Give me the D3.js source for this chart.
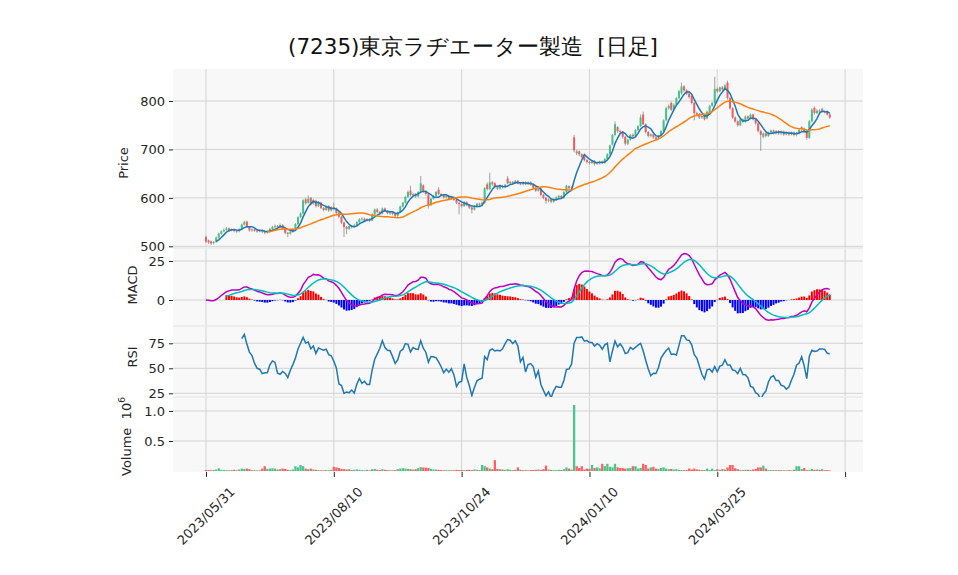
<!DOCTYPE html>
<html><head><meta charset="utf-8">
<script src="https://cdn.jsdelivr.net/npm/d3@7"></script>
<style>body{margin:0;background:#fff}svg text{font-family:"DejaVu Sans",sans-serif}</style>
</head><body><svg id="c" width="958" height="575"></svg>
<script>
// ---- data ----
const title = "(7235)東京ラヂエーター製造\u00a0\u00a0[日足]";
const opens = [
519,512,510,507,509,518,526,531,534,537, 533,535,532,531,535,545,551,540,533,535,
532,531,533,531,528,530,536,540,542,540, 544,537,528,526,530,535,546,560,568,597,
590,600,588,594,583,590,579,575,583,574, 581,578,569,561,549,540,536,542,540,543,
550,556,557,553,556,553,566,576,571,568, 578,573,568,570,567,563,570,582,590,602,
615,606,608,603,612,626,614,607,585,598, 604,617,608,606,601,604,598,602,596,590,
587,583,591,585,580,576,582,588,586,590, 628,618,632,630,622,619,625,622,640,630,
633,631,635,630,628,632,628,632,627,621, 615,619,606,600,594,597,592,597,601,604,
600,612,624,620,725,692,696,690,685,678, 674,672,676,670,672,675,673,680,690,710,
730,746,738,736,726,712,720,730,727,740, 748,772,752,736,728,731,725,722,728,738,
760,785,796,782,792,806,816,830,822,815, 810,796,775,772,766,770,764,778,790,796,
825,820,828,824,838,806,785,766,758,750, 762,757,768,764,772,762,754,738,726,733,
728,735,739,734,738,733,737,731,735,731, 735,730,734,746,743,738,724,758,786,775,
780,784,777,779,772];
const closes = [
510,508,506,509,518,526,531,534,537,533, 535,532,531,535,545,550,540,533,535,532,
531,533,531,528,530,536,540,542,540,544, 537,528,526,530,535,546,560,568,595,589,
598,588,595,583,590,579,575,583,574,581, 578,569,561,549,540,536,542,540,543,550,
556,557,553,556,553,566,576,571,568,578, 573,568,570,567,563,570,582,590,602,612,
606,608,603,612,630,614,608,584,598,604, 612,608,606,601,604,598,602,596,590,587,
583,591,585,580,576,582,588,586,590,620, 618,632,628,622,619,625,622,627,630,633,
631,635,630,628,632,628,632,627,621,615, 619,606,600,594,597,592,597,601,604,600,
612,625,620,622,698,696,690,685,678,674, 672,676,670,672,675,673,680,690,708,730,
752,738,736,726,712,720,730,727,740,748, 766,752,736,728,731,725,722,728,738,760,
785,790,782,792,806,820,830,822,815,808, 796,775,772,766,769,762,778,790,796,825,
820,828,824,832,806,785,766,758,750,762, 757,768,764,772,762,754,738,730,733,728,
735,739,734,738,733,737,731,735,731,735, 730,734,740,743,738,724,758,782,775,780,
778,782,777,772,766];
const highs = [
522,514,512,511,520,528,533,537,540,539, 537,537,534,537,547,553,553,542,537,537,
534,535,535,533,532,538,542,545,544,547, 546,538,530,532,537,548,562,570,597,600,
605,602,597,596,592,592,581,585,585,583, 590,580,571,563,551,542,544,544,546,552,
558,560,559,558,558,568,578,579,573,580, 580,575,572,572,569,572,584,592,604,615,
625,611,610,614,645,628,616,609,600,606, 614,622,610,608,606,606,604,603,598,592,
589,593,593,587,582,584,590,590,592,622, 632,652,635,633,625,627,627,629,645,635,
635,637,637,632,634,634,634,634,629,623, 621,621,608,602,599,599,599,603,606,606,
614,627,626,624,730,699,698,692,687,680, 676,678,678,674,677,677,682,692,710,732,
758,748,741,738,728,722,732,733,742,750, 772,778,754,738,733,733,727,730,740,762,
788,793,799,795,808,823,838,833,825,818, 812,798,778,775,772,772,780,792,798,850,
828,830,831,835,842,808,787,768,760,764, 764,770,770,774,774,764,756,740,735,735,
737,741,741,740,740,739,739,737,737,737, 737,736,742,748,745,740,761,785,789,783,
783,786,780,781,775];
const lows = [
507,505,503,504,507,516,524,529,532,530, 531,529,528,529,533,543,538,530,530,530,
528,529,527,525,526,528,534,538,537,538, 535,525,519,524,528,533,544,558,566,586,
588,585,586,580,581,577,572,573,571,572, 576,566,558,546,519,525,534,537,538,541,
548,553,550,551,550,552,564,568,566,566, 571,566,565,564,560,561,568,580,588,600,
603,603,600,601,610,611,605,578,583,596, 602,605,603,599,599,596,596,594,587,566,
580,581,583,577,568,574,580,583,584,588, 615,616,625,619,616,617,619,620,628,628,
629,629,628,626,626,626,626,625,619,612, 613,603,597,588,591,589,590,594,599,598,
598,610,618,618,694,688,686,682,675,671, 669,670,667,668,669,670,671,678,688,708,
728,734,732,722,708,709,718,724,725,738, 746,750,733,725,725,722,719,720,726,736,
758,782,779,780,790,804,813,818,812,805, 793,760,768,763,763,760,762,776,788,794,
817,818,821,822,803,782,763,755,747,748, 755,755,762,762,760,751,735,697,723,725,
726,733,731,731,730,730,728,729,728,729, 727,727,731,738,735,720,722,756,772,773,
775,775,774,770,763];
const volumes = [ // thousands of shares
17,17,12,17,25,45,20,17,15,12, 15,20,12,25,40,35,40,30,15,12,
10,12,40,80,35,40,45,40,25,30, 40,35,20,15,25,80,60,100,80,40,
30,40,25,20,15,12,12,15,12,20, 70,60,50,35,30,25,30,15,20,25,
20,15,12,20,12,30,35,20,15,30, 20,15,12,12,15,30,40,45,40,35,
30,25,30,45,65,60,55,50,35,25, 25,20,15,12,15,12,15,12,20,15,
17,15,17,20,15,25,20,15,100,80, 60,40,30,180,35,30,25,20,30,20,
15,20,60,20,15,15,12,15,17,20, 25,20,30,90,25,17,15,15,20,17,
30,60,40,25,1100,80,50,80,25,40, 35,100,50,60,45,120,80,120,70,60,
120,60,50,50,40,45,50,80,80,40, 50,120,100,40,60,70,40,35,50,60,
40,30,35,25,30,20,17,15,15,40, 25,40,25,20,17,15,40,17,40,15,
30,20,30,25,60,100,100,45,30,15, 15,20,20,17,25,35,60,60,90,40,
15,15,15,15,15,15,12,12,15,12, 20,80,80,30,50,15,15,35,20,25,
20,30,15,15,10];
const tickIdx = [0, 50, 100, 150, 200, 250];
const tickLabels = ["2023/05/31", "2023/08/10", "2023/10/24", "2024/01/10", "2024/03/25", ""];
const priceTicks = [500, 600, 700, 800];
const macdTicks = [0, 25];
const rsiTicks = [25, 50, 75];
const volTicks = [0.5, 1.0];

// ---- indicators from the closes ----
const n = closes.length;
function sma(a, p){ return a.map((v,i)=> i<p-1 ? null : d3.mean(a.slice(i-p+1,i+1))); }
function ema(a, p){ const k=2/(p+1); const out=[]; a.forEach((v,i)=>out.push(i===0?v:out[i-1]+k*(v-out[i-1]))); return out; }
const ma5 = sma(closes,5), ma25 = sma(closes,25);
const e12 = ema(closes,12), e26 = ema(closes,26);
const macd = e12.map((v,i)=>v-e26[i]);
const sig = ema(macd,9);
const hist = macd.map((v,i)=>v-sig[i]);
const rsi = closes.map((c,i)=>{
  if(i<14) return null;
  let g=0,l=0;
  for(let j=i-13;j<=i;j++){ const d=closes[j]-closes[j-1]; if(d>0) g+=d; else l-=d; }
  return l===0?100:100-100/(1+g/l);
});

// ---- layout ----
const svg = d3.select("#c");
const L=173, R=863;
const P = {price:[69,248], macd:[248,326], rsi:[326,397], vol:[397,472]};
const x = d3.scaleLinear().domain([-12.9,257.0]).range([L,R]);
const yP = d3.scaleLinear().domain([500,800]).range([246.3,101]);
const yM = d3.scaleLinear().domain([0,25]).range([300,261]);
const yR = d3.scaleLinear().domain([25,75]).range([393.3,343.3]);
const yV = d3.scaleLinear().domain([0,1]).range([471,411]);
const UP="#40c383", DN="#f65a5a", GRID="#d3d3d3", BG="#f8f8f8", TXT="#262626";

Object.entries(P).forEach(([k,[t,b]])=>{
  svg.append("rect").attr("x",L).attr("y",t).attr("width",R-L).attr("height",b-t).attr("fill",BG);
  svg.append("clipPath").attr("id","cp-"+k).append("rect").attr("x",L).attr("y",t).attr("width",R-L).attr("height",b-t);
  svg.selectAll(null).data(tickIdx).join("line")
    .attr("x1",d=>x(d)).attr("x2",d=>x(d)).attr("y1",t).attr("y2",b)
    .attr("stroke",GRID).attr("stroke-width",1);
});
[248,326,397].forEach(yy=>svg.append("line").attr("x1",L).attr("x2",R).attr("y1",yy).attr("y2",yy).attr("stroke","#eaeaea").attr("stroke-width",1.5));

function yAxis(scale, ticks, fmt, panel){
  const g = svg.append("g").attr("transform",`translate(${L},0)`)
    .call(d3.axisLeft(scale).tickValues(ticks).tickFormat(fmt).tickSize(4).tickPadding(4));
  g.select(".domain").remove();
  g.selectAll(".tick line").attr("stroke",TXT);
  g.selectAll(".tick text").attr("font-size",13).attr("fill",TXT).attr("font-family","DejaVu Sans");
  svg.append("g").selectAll("line").data(ticks).join("line")
    .attr("x1",L).attr("x2",R).attr("y1",d=>scale(d)).attr("y2",d=>scale(d))
    .attr("stroke",GRID).attr("stroke-width",1).attr("clip-path",`url(#cp-${panel})`);
}
yAxis(yP, priceTicks, d3.format("d"), "price");
yAxis(yM, macdTicks, d3.format("d"), "macd");
yAxis(yR, rsiTicks, d3.format("d"), "rsi");
yAxis(yV, volTicks, d3.format(".1f"), "vol");

const idx = d3.range(n);
const bw = 2.0;
const gC = svg.append("g").attr("clip-path","url(#cp-price)");
gC.selectAll("line").data(idx).join("line")
  .attr("x1",i=>x(i)).attr("x2",i=>x(i)).attr("y1",i=>yP(highs[i])).attr("y2",i=>yP(lows[i]))
  .attr("stroke","#8c8c8c").attr("stroke-width",0.8);
gC.selectAll("rect").data(idx).join("rect")
  .attr("x",i=>x(i)-bw/2).attr("width",bw)
  .attr("y",i=>yP(Math.max(opens[i],closes[i])))
  .attr("height",i=>Math.max(0.8,Math.abs(yP(opens[i])-yP(closes[i]))))
  .attr("fill",i=>closes[i]>=opens[i]?UP:DN);
function line(arr, ys, color, clip, w){
  const gen = d3.line().defined(d=>arr[d]!=null).x(d=>x(d)).y(d=>ys(arr[d]));
  svg.append("path").datum(idx).attr("d",gen).attr("fill","none").attr("stroke",color)
    .attr("stroke-width",w||1.5).attr("clip-path",`url(#cp-${clip})`);
}
line(ma5, yP, "#1f77b4", "price", 1.5);
line(ma25, yP, "#ff7f0e", "price", 1.5);

const hIdx = idx.filter(i=>i>=8);
svg.append("g").attr("clip-path","url(#cp-macd)").selectAll("rect").data(hIdx).join("rect")
  .attr("x",i=>x(i)-1).attr("width",2)
  .attr("y",i=>Math.min(yM(0),yM(hist[i]))).attr("height",i=>Math.abs(yM(hist[i])-yM(0)))
  .attr("fill",i=>hist[i]>=0?"#ff0000":"#0000ff");
line(macd, yM, "#bf00bf", "macd", 1.5);
line(sig.map((v,i)=>i>=8?v:null), yM, "#00bfbf", "macd", 1.5);

line(rsi, yR, "#1f77b4", "rsi", 1.5);

svg.append("g").attr("clip-path","url(#cp-vol)").selectAll("rect").data(idx).join("rect")
  .attr("x",i=>x(i)-1.15).attr("width",2.3)
  .attr("y",i=>yV(volumes[i]/1000)).attr("height",i=>yV(0)-yV(volumes[i]/1000))
  .attr("fill",i=>(i===0?closes[i]>=opens[i]:closes[i]>=closes[i-1])?"#4cc48c":"#ff6060");

const gx = svg.append("g").attr("transform",`translate(0,${P.vol[1]})`)
  .call(d3.axisBottom(x).tickValues(tickIdx).tickFormat("").tickSize(5));
gx.select(".domain").remove();
gx.selectAll(".tick line").attr("stroke",TXT);
svg.selectAll(null).data(tickIdx.filter((d,i)=>tickLabels[i])).join("text")
  .attr("transform",(d)=>`translate(${x(d)},516) rotate(-45)`)
  .attr("text-anchor","middle").attr("dominant-baseline","central")
  .attr("font-size",13).attr("fill",TXT)
  .text(d=>tickLabels[tickIdx.indexOf(d)]);

function ylab(txt, xx, yy){
  return svg.append("text").attr("transform",`translate(${xx},${yy}) rotate(-90)`)
    .attr("text-anchor","middle").attr("font-size",13).attr("fill",TXT).text(txt);
}
ylab("Price",128,163);
ylab("MACD",137,285);
ylab("RSI",137,357);
const vt = svg.append("text").attr("transform",`translate(131,476) rotate(-90)`)
  .attr("text-anchor","start").attr("font-size",13).attr("fill",TXT);
vt.append("tspan").text("Volume\u00a0\u00a010");
vt.append("tspan").attr("dy",-6).attr("font-size",9).text("6");

svg.append("text").attr("x",288).attr("y",54).attr("font-size",21.5)
  .attr("font-family","'Noto Sans CJK JP'").attr("fill","#111").text(title);
</script></body></html>
